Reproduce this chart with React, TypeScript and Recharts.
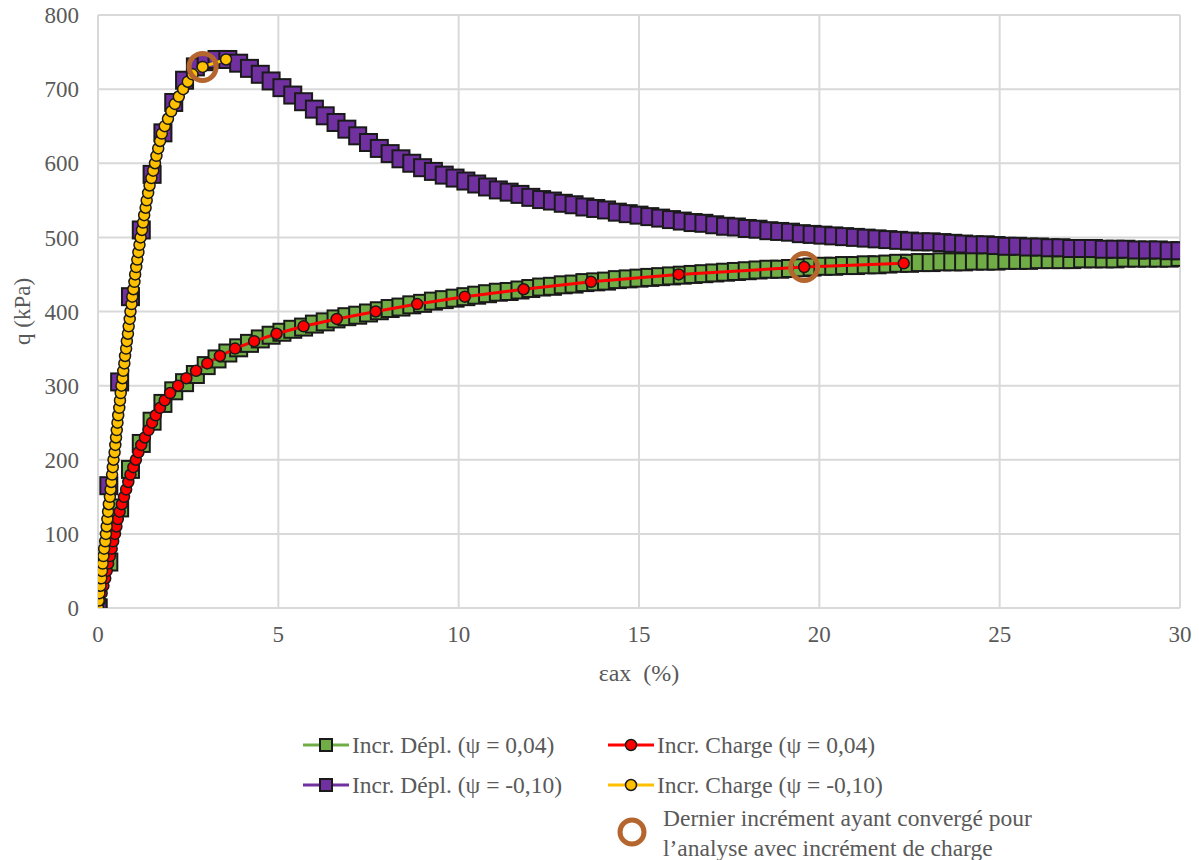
import React from 'react';
import { ScatterChart, Scatter, XAxis, YAxis, CartesianGrid, Legend } from 'recharts';

// strain (%) for the displacement-controlled runs
const strainDepl = [
  0, 0.3, 0.6, 0.9, 1.2, 1.5, 1.8, 2.1, 2.4, 2.7,
  3, 3.3, 3.6, 3.9, 4.2, 4.5, 4.8, 5.1, 5.4, 5.7,
  6, 6.3, 6.6, 6.9, 7.2, 7.5, 7.8, 8.1, 8.4, 8.7,
  9, 9.3, 9.6, 9.9, 10.2, 10.5, 10.8, 11.1, 11.4, 11.7,
  12, 12.3, 12.6, 12.9, 13.2, 13.5, 13.8, 14.1, 14.4, 14.7,
  15, 15.3, 15.6, 15.9, 16.2, 16.5, 16.8, 17.1, 17.4, 17.7,
  18, 18.3, 18.6, 18.9, 19.2, 19.5, 19.8, 20.1, 20.4, 20.7,
  21, 21.3, 21.6, 21.9, 22.2, 22.5, 22.8, 23.1, 23.4, 23.7,
  24, 24.3, 24.6, 24.9, 25.2, 25.5, 25.8, 26.1, 26.4, 26.7,
  27, 27.3, 27.6, 27.9, 28.2, 28.5, 28.8, 29.1, 29.4, 29.7,
  30,
];

// q (kPa), Incr. Dépl. psi = 0,04
const qDeplPos = [
  0, 62, 135, 187, 222, 252, 276, 293, 304, 315,
  327, 336, 344, 351, 357, 363, 368, 372, 376, 379,
  383, 386, 390, 393, 395, 398, 401, 404, 406, 409,
  411, 414, 416, 418, 420, 422, 424, 426, 427, 429,
  431, 433, 434, 436, 437, 439, 440, 441, 443, 444,
  445, 446, 447, 448, 449, 450, 451, 452, 453, 454,
  455, 456, 457, 457, 458, 459, 460, 461, 461, 462,
  462, 463, 463, 464, 465, 465, 466, 466, 467, 467,
  467, 468, 468, 468, 469, 469, 469, 470, 470, 470,
  470, 471, 471, 471, 471, 472, 472, 472, 472, 472,
  473,
];

// q (kPa), Incr. Dépl. psi = -0,10
const qDeplNeg = [
  0, 165, 305, 420, 510, 585, 641, 682, 712, 730,
  737, 740, 740, 735, 728, 720, 711, 702, 692, 683,
  673, 664, 655, 646, 637, 628, 620, 613, 606, 600,
  594, 589, 584, 580, 576, 572, 568, 564, 561, 558,
  554, 551, 549, 546, 544, 541, 539, 537, 534, 532,
  530, 528, 526, 524, 522, 520, 519, 517, 515, 514,
  512, 511, 509, 508, 507, 505, 504, 503, 502, 501,
  500, 499, 498, 497, 496, 495, 494, 494, 493, 492,
  491, 490, 490, 489, 488, 488, 487, 487, 486, 486,
  485, 485, 485, 484, 484, 484, 483, 483, 483, 482,
  482,
];

// load-controlled runs: q steps (kPa) and the strain reached (%)
const qChargePos = [
  0, 10, 20, 30, 40, 50, 60, 70, 80, 90,
  100, 110, 120, 130, 140, 150, 160, 170, 180, 190,
  200, 210, 220, 230, 240, 250, 260, 270, 280, 290,
  300, 310, 320, 330, 340, 350, 360, 370, 380, 390,
  400, 410, 420, 430, 440, 450, 460, 465,
];
const strainChargePos = [
  0, 0.05, 0.1, 0.15, 0.2, 0.24, 0.28, 0.33, 0.38, 0.42,
  0.47, 0.51, 0.55, 0.6, 0.66, 0.72, 0.78, 0.84, 0.9, 0.98,
  1.05, 1.12, 1.2, 1.3, 1.4, 1.5, 1.6, 1.72, 1.85, 2.0,
  2.22, 2.45, 2.72, 3.03, 3.38, 3.8, 4.33, 4.95, 5.7, 6.62,
  7.7, 8.85, 10.17, 11.8, 13.67, 16.1, 19.58, 22.34,
];

const qChargeNeg = [
  0, 10, 20, 30, 40, 50, 60, 70, 80, 90,
  100, 110, 120, 130, 140, 150, 160, 170, 180, 190,
  200, 210, 220, 230, 240, 250, 260, 270, 280, 290,
  300, 310, 320, 330, 340, 350, 360, 370, 380, 390,
  400, 410, 420, 430, 440, 450, 460, 470, 480, 490,
  500, 510, 520, 530, 540, 550, 560, 570, 580, 590,
  600, 610, 620, 630, 640, 650, 660, 670, 680, 690,
  700, 710, 720, 730, 740,
];
const strainChargeNeg = [
  0, 0.02, 0.04, 0.07, 0.09, 0.11, 0.13, 0.15, 0.17, 0.2,
  0.22, 0.24, 0.26, 0.28, 0.3, 0.33, 0.35, 0.37, 0.39, 0.41,
  0.43, 0.46, 0.48, 0.5, 0.52, 0.54, 0.56, 0.59, 0.61, 0.63,
  0.65, 0.68, 0.7, 0.73, 0.75, 0.78, 0.8, 0.83, 0.85, 0.88,
  0.9, 0.93, 0.95, 0.98, 1.01, 1.03, 1.06, 1.09, 1.12, 1.15,
  1.18, 1.22, 1.25, 1.28, 1.32, 1.35, 1.39, 1.43, 1.48, 1.53,
  1.58, 1.62, 1.67, 1.72, 1.77, 1.85, 1.94, 2.03, 2.13, 2.24,
  2.36, 2.49, 2.62, 2.9, 3.55,
];

// last converged increment of the load-controlled analyses
const lastStrain = [2.9, 19.58];
const lastQ = [730, 460];

const xTicks = [0, 5, 10, 15, 20, 25, 30];
const yTicks = [0, 100, 200, 300, 400, 500, 600, 700, 800];

const seriesNames = [
  'Incr. Dépl. (ψ = 0,04)',
  'Incr. Charge (ψ = 0,04)',
  'Incr. Dépl. (ψ = -0,10)',
  'Incr. Charge (ψ = -0,10)',
];
const ringNote = ['Dernier incrément ayant convergé pour', 'l’analyse avec incrément de charge'];

const GREEN = '#70AD47';
const PURPLE = '#7030A0';
const RED = '#FF0000';
const YELLOW = '#FFC000';
const BROWN = '#B4662E';
const FONT = '"Liberation Serif", "Times New Roman", serif';
const TEXT = '#595959';

const zip = (xs: number[], ys: number[]) => xs.map((x, i) => ({ x, y: ys[i] }));

const deplPos = zip(strainDepl, qDeplPos);
const deplNeg = zip(strainDepl, qDeplNeg);
const chargePos = zip(strainChargePos, qChargePos);
const chargeNeg = zip(strainChargeNeg, qChargeNeg);
const rings = zip(lastStrain, lastQ);

const square = (fill: string) => (p: any) => (
  <rect x={p.cx - 8.5} y={p.cy - 8.5} width={17} height={17} fill={fill} stroke="#1a1a1a" strokeWidth={2} />
);
const dot = (fill: string) => (p: any) => (
  <circle cx={p.cx} cy={p.cy} r={5.5} fill={fill} stroke="#1a1a1a" strokeWidth={1.5} />
);
const ring = (p: any) => (
  <circle cx={p.cx} cy={p.cy} r={13.5} fill="none" stroke={BROWN} strokeWidth={5} />
);

const LegendIcon = ({ color, kind }: { color: string; kind: 'square' | 'dot' }) => (
  <svg width={46} height={20} style={{ display: 'block', flex: 'none' }}>
    <line x1={0} y1={10} x2={46} y2={10} stroke={color} strokeWidth={3} />
    {kind === 'square' ? (
      <rect x={17} y={4} width={12} height={12} fill={color} stroke="#1a1a1a" strokeWidth={2} />
    ) : (
      <circle cx={23} cy={10} r={5.5} fill={color} stroke="#1a1a1a" strokeWidth={1.5} />
    )}
  </svg>
);

const legendRows = [
  [
    { name: seriesNames[0], color: GREEN, kind: 'square' as const },
    { name: seriesNames[1], color: RED, kind: 'dot' as const },
  ],
  [
    { name: seriesNames[2], color: PURPLE, kind: 'square' as const },
    { name: seriesNames[3], color: YELLOW, kind: 'dot' as const },
  ],
];

// wrapper sits at x=300, y=735 in the page
const ChartLegend = () => (
  <div style={{ position: 'relative', width: 800, height: 130, fontFamily: FONT, fontSize: 23.5, color: TEXT }}>
    {legendRows.map((row, r) =>
      row.map((it, c) => (
        <div
          key={`${r}-${c}`}
          style={{ position: 'absolute', top: r * 40, left: c === 0 ? 3 : 308, height: 20, display: 'flex', alignItems: 'center', whiteSpace: 'nowrap' }}
        >
          <LegendIcon color={it.color} kind={it.kind} />
          <span style={{ marginLeft: 3, lineHeight: '20px' }}>{it.name}</span>
        </div>
      ))
    )}
    <svg width={32} height={32} style={{ position: 'absolute', left: 316, top: 81 }}>
      <circle cx={16} cy={16} r={12} fill="none" stroke={BROWN} strokeWidth={5} />
    </svg>
    <div style={{ position: 'absolute', left: 363, top: 68, lineHeight: '30px', whiteSpace: 'nowrap' }}>
      <div>{ringNote[0]}</div>
      <div>{ringNote[1]}</div>
    </div>
  </div>
);

const tickStyle = { fill: TEXT, fontSize: 23, fontFamily: FONT };

export default function App() {
  return (
    <div style={{ position: 'absolute', left: 0, top: 0, background: '#fff' }}>
      <ScatterChart
        width={1199}
        height={860}
        margin={{ top: 15, right: 19, left: 8, bottom: 152 }}
        style={{ fontFamily: FONT }}
      >
        <CartesianGrid stroke="#D9D9D9" strokeWidth={2} />
        <XAxis
          type="number"
          dataKey="x"
          domain={[0, 30]}
          ticks={xTicks}
          allowDataOverflow
          axisLine={false}
          tickLine={false}
          tickSize={0}
          tickMargin={18}
          height={100}
          tick={tickStyle}
          label={{ value: 'εax\u00a0\u00a0(%)', position: 'insideTop', offset: 56, fill: TEXT, fontSize: 24, fontFamily: FONT }}
        />
        <YAxis
          type="number"
          dataKey="y"
          domain={[0, 800]}
          ticks={yTicks}
          allowDataOverflow
          axisLine={false}
          tickLine={false}
          tickSize={0}
          tickMargin={19}
          width={90}
          tick={tickStyle}
          label={{ value: 'q (kPa)', angle: -90, position: 'insideLeft', offset: 14, fill: TEXT, fontSize: 23, fontFamily: FONT, style: { textAnchor: 'middle' } }}
        />
        <Legend
          layout="vertical"
          align="center"
          verticalAlign="middle"
          content={() => <ChartLegend />}
          wrapperStyle={{ position: 'absolute', top: 735, left: 300, width: 800 }}
        />
        <Scatter name={seriesNames[0]} data={deplPos} line={{ stroke: GREEN, strokeWidth: 3 }} lineType="joint" shape={square(GREEN)} isAnimationActive={false} />
        <Scatter name={seriesNames[2]} data={deplNeg} line={{ stroke: PURPLE, strokeWidth: 3 }} lineType="joint" shape={square(PURPLE)} isAnimationActive={false} />
        <Scatter name={seriesNames[1]} data={chargePos} line={{ stroke: RED, strokeWidth: 3 }} lineType="joint" shape={dot(RED)} isAnimationActive={false} />
        <Scatter name={seriesNames[3]} data={chargeNeg} line={{ stroke: YELLOW, strokeWidth: 3 }} lineType="joint" shape={dot(YELLOW)} isAnimationActive={false} />
        <Scatter name="ring" data={rings} shape={ring} isAnimationActive={false} />
      </ScatterChart>
    </div>
  );
}
